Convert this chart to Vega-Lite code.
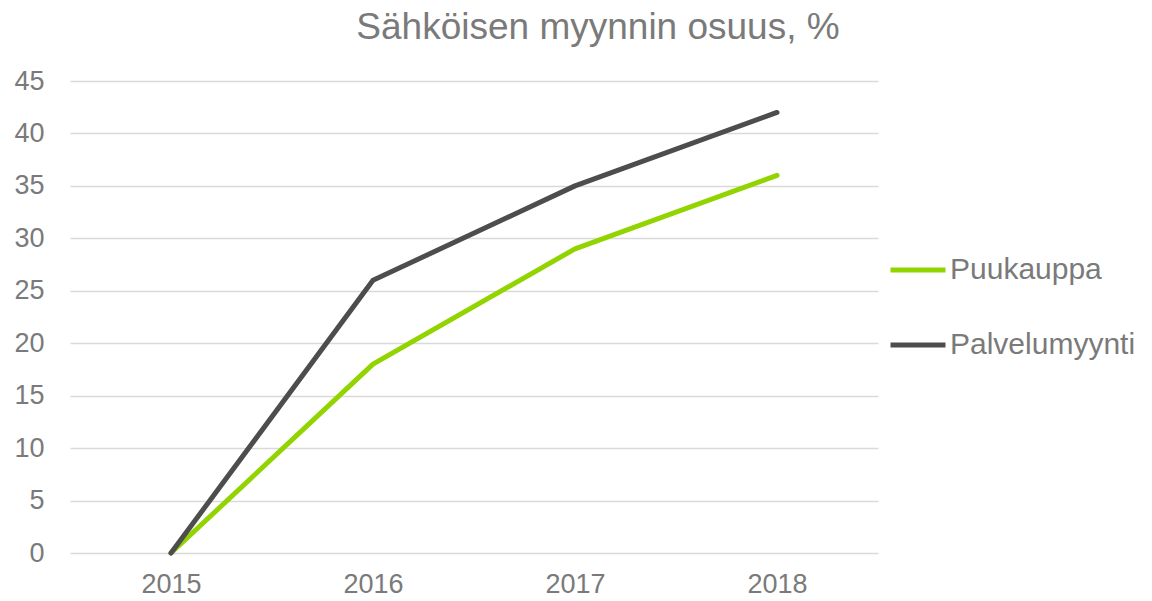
{
  "$schema": "https://vega.github.io/schema/vega-lite/v6.json",
  "width": 808,
  "height": 472,
  "autosize": {"type": "none"},
  "padding": {"left": 70, "top": 81, "right": 274, "bottom": 48},
  "background": "white",
  "config": {"view": {"stroke": null}},
  "title": {
    "text": "Sähköisen myynnin osuus, %",
    "font": "Liberation Sans",
    "fontSize": 37,
    "fontWeight": "normal",
    "color": "#7a7a7a",
    "anchor": "middle",
    "frame": "group",
    "dx": 124,
    "offset": 20
  },
  "data": {
    "values": [
      {"year": "2015", "series": "Puukauppa", "value": 0},
      {"year": "2016", "series": "Puukauppa", "value": 18},
      {"year": "2017", "series": "Puukauppa", "value": 29},
      {"year": "2018", "series": "Puukauppa", "value": 36},
      {"year": "2015", "series": "Palvelumyynti", "value": 0},
      {"year": "2016", "series": "Palvelumyynti", "value": 26},
      {"year": "2017", "series": "Palvelumyynti", "value": 35},
      {"year": "2018", "series": "Palvelumyynti", "value": 42}
    ]
  },
  "mark": {"type": "line", "strokeWidth": 5, "strokeCap": "round", "strokeJoin": "round"},
  "encoding": {
    "x": {
      "field": "year",
      "type": "ordinal",
      "scale": {"type": "point", "padding": 0.5},
      "axis": {
        "title": null,
        "labelAngle": 0,
        "domain": false,
        "ticks": false,
        "grid": false,
        "labelFont": "Liberation Sans",
        "labelFontSize": 27,
        "labelColor": "#7a7a7a",
        "labelPadding": 18
      }
    },
    "y": {
      "field": "value",
      "type": "quantitative",
      "scale": {"domain": [0, 45], "nice": false},
      "axis": {
        "title": null,
        "values": [0, 5, 10, 15, 20, 25, 30, 35, 40, 45],
        "domain": false,
        "ticks": false,
        "grid": true,
        "gridColor": "#d9d9d9",
        "gridWidth": 1.5,
        "labelFont": "Liberation Sans",
        "labelFontSize": 27,
        "labelColor": "#7a7a7a",
        "labelPadding": 26
      }
    },
    "color": {
      "field": "series",
      "type": "nominal",
      "scale": {"domain": ["Puukauppa", "Palvelumyynti"], "range": ["#92d400", "#4d4d4d"]},
      "legend": {
        "title": null,
        "orient": "none",
        "legendX": 818,
        "legendY": 159,
        "symbolType": "stroke",
        "symbolSize": 3025,
        "symbolStrokeWidth": 5,
        "rowPadding": 30,
        "labelOffset": 2,
        "labelFont": "Liberation Sans",
        "labelFontSize": 30,
        "labelColor": "#7a7a7a",
        "labelLimit": 400
      }
    }
  }
}
